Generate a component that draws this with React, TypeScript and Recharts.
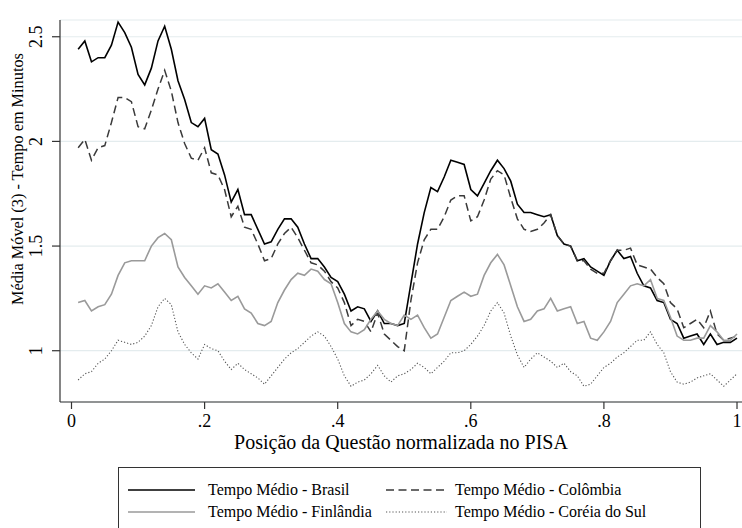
import React from 'react';
import { LineChart, Line, XAxis, YAxis, CartesianGrid, Legend } from 'recharts';

const positions = [
  0.01, 0.02, 0.03, 0.04, 0.05, 0.06, 0.07, 0.08, 0.09, 0.1,
  0.11, 0.12, 0.13, 0.14, 0.15, 0.16, 0.17, 0.18, 0.19, 0.2,
  0.21, 0.22, 0.23, 0.24, 0.25, 0.26, 0.27, 0.28, 0.29, 0.3,
  0.31, 0.32, 0.33, 0.34, 0.35, 0.36, 0.37, 0.38, 0.39, 0.4,
  0.41, 0.42, 0.43, 0.44, 0.45, 0.46, 0.47, 0.48, 0.49, 0.5,
  0.51, 0.52, 0.53, 0.54, 0.55, 0.56, 0.57, 0.58, 0.59, 0.6,
  0.61, 0.62, 0.63, 0.64, 0.65, 0.66, 0.67, 0.68, 0.69, 0.7,
  0.71, 0.72, 0.73, 0.74, 0.75, 0.76, 0.77, 0.78, 0.79, 0.8,
  0.81, 0.82, 0.83, 0.84, 0.85, 0.86, 0.87, 0.88, 0.89, 0.9,
  0.91, 0.92, 0.93, 0.94, 0.95, 0.96, 0.97, 0.98, 0.99, 1.0,
];

const brasil = [
  2.44, 2.48, 2.38, 2.40, 2.40, 2.46, 2.57, 2.52, 2.45, 2.32,
  2.27, 2.35, 2.48, 2.55, 2.44, 2.29, 2.20, 2.09, 2.07, 2.11,
  1.96, 1.94, 1.84, 1.71, 1.77, 1.65, 1.65, 1.58, 1.51, 1.52,
  1.58, 1.63, 1.63, 1.59, 1.51, 1.44, 1.44, 1.40, 1.35, 1.33,
  1.27, 1.19, 1.21, 1.20, 1.14, 1.19, 1.13, 1.13, 1.12, 1.13,
  1.32, 1.51, 1.66, 1.78, 1.76, 1.83, 1.91, 1.90, 1.89, 1.77,
  1.74, 1.80, 1.86, 1.91, 1.87, 1.81, 1.70, 1.66, 1.66, 1.65,
  1.64, 1.65, 1.55, 1.51, 1.50, 1.43, 1.44, 1.40, 1.38, 1.36,
  1.43, 1.48, 1.44, 1.45, 1.37, 1.31, 1.30, 1.24, 1.23, 1.15,
  1.13, 1.06, 1.07, 1.08, 1.03, 1.08, 1.03, 1.04, 1.04, 1.06,
];

const colombia = [
  1.97, 2.01, 1.91, 1.97, 1.98, 2.09, 2.21, 2.21, 2.19, 2.07,
  2.06, 2.15, 2.25, 2.34, 2.24, 2.09, 1.99, 1.92, 1.91, 1.97,
  1.85, 1.84, 1.77, 1.64, 1.69, 1.59, 1.58, 1.51, 1.43, 1.44,
  1.51, 1.56, 1.59, 1.54, 1.48, 1.42, 1.41, 1.38, 1.33, 1.30,
  1.23, 1.12, 1.15, 1.14, 1.09, 1.18, 1.08, 1.05, 1.02, 1.00,
  1.24, 1.42, 1.53, 1.58, 1.58, 1.64, 1.72, 1.74, 1.74, 1.62,
  1.64, 1.72, 1.82, 1.86, 1.84, 1.73, 1.63, 1.58, 1.57, 1.58,
  1.61, 1.65, 1.55, 1.51, 1.50, 1.43, 1.43, 1.39, 1.37, 1.37,
  1.43, 1.48, 1.48, 1.49, 1.41, 1.40, 1.39, 1.35, 1.32, 1.23,
  1.20, 1.11, 1.13, 1.15, 1.11, 1.19, 1.08, 1.05, 1.06, 1.07,
];

const finlandia = [
  1.23, 1.24, 1.19, 1.21, 1.22, 1.27, 1.36, 1.42, 1.43, 1.43,
  1.43, 1.50, 1.54, 1.56, 1.53, 1.40, 1.35, 1.31, 1.27, 1.31,
  1.30, 1.32, 1.28, 1.24, 1.26, 1.20, 1.18, 1.13, 1.12, 1.14,
  1.23, 1.29, 1.34, 1.37, 1.36, 1.39, 1.38, 1.34, 1.32, 1.23,
  1.13, 1.09, 1.08, 1.10, 1.15, 1.19, 1.15, 1.13, 1.12, 1.17,
  1.15, 1.17, 1.11, 1.06, 1.08, 1.16, 1.24, 1.26, 1.28, 1.26,
  1.27, 1.36, 1.42, 1.46, 1.41, 1.31, 1.21, 1.14, 1.15, 1.19,
  1.20, 1.25, 1.19, 1.20, 1.21, 1.13, 1.14, 1.06, 1.05, 1.09,
  1.14, 1.23, 1.27, 1.31, 1.32, 1.31, 1.34, 1.25, 1.24, 1.16,
  1.07, 1.05, 1.05, 1.06, 1.06, 1.12, 1.09, 1.05, 1.05, 1.08,
];

const coreia = [
  0.86, 0.89, 0.90, 0.94, 0.96, 1.00, 1.05, 1.04, 1.03, 1.04,
  1.07, 1.12, 1.21, 1.25, 1.22, 1.09, 1.03, 0.99, 0.96, 1.03,
  1.01, 1.00, 0.95, 0.91, 0.94, 0.91, 0.89, 0.87, 0.84, 0.88,
  0.92, 0.96, 0.99, 1.01, 1.04, 1.07, 1.09, 1.07, 1.02, 0.96,
  0.88, 0.83, 0.85, 0.86, 0.89, 0.93, 0.88, 0.85, 0.88, 0.89,
  0.91, 0.94, 0.92, 0.89, 0.92, 0.95, 0.99, 0.99, 1.00, 1.03,
  1.07, 1.12, 1.19, 1.23, 1.18, 1.07, 0.98, 0.92, 0.96, 0.99,
  0.97, 0.95, 0.92, 0.94, 0.90, 0.88, 0.83, 0.84, 0.88, 0.92,
  0.94, 0.97, 0.99, 1.02, 1.05, 1.05, 1.09, 1.03, 0.99, 0.90,
  0.85, 0.84, 0.85, 0.87, 0.88, 0.89, 0.86, 0.83, 0.86, 0.89,
];

const xTicks = [0, 0.2, 0.4, 0.6, 0.8, 1];
const yTicks = [1, 1.5, 2, 2.5];
const seriesNames = [
  'Tempo Médio - Brasil',
  'Tempo Médio - Colômbia',
  'Tempo Médio - Finlândia',
  'Tempo Médio - Coréia do Sul',
];
const xTitle = 'Posição da Questão normalizada no PISA';
const yTitle = 'Média Móvel (3) - Tempo em Minutos';

const data = positions.map((x, i) => ({
  x,
  brasil: brasil[i],
  colombia: colombia[i],
  finlandia: finlandia[i],
  coreia: coreia[i],
}));

const FONT = '"Liberation Serif", "Times New Roman", serif';
const AXIS = '#333333';

const styles = [
  { key: 'brasil', stroke: '#000000', width: 1.6, dash: undefined as string | undefined },
  { key: 'colombia', stroke: '#3a3a3a', width: 1.5, dash: '8 4.5' },
  { key: 'finlandia', stroke: '#9a9a9a', width: 1.6, dash: undefined as string | undefined },
  { key: 'coreia', stroke: '#555555', width: 1.1, dash: '1.2 2' },
];

const fmtX = (v: number) => (v === 0 ? '0' : v === 1 ? '1' : String(v).replace(/^0/, ''));

const XTick = (props: any) => {
  const { x, y, payload } = props;
  return (
    <text x={x} y={y + 16} textAnchor="middle" fontFamily={FONT} fontSize={18} fill="#000">
      {fmtX(payload.value)}
    </text>
  );
};

const YTick = (props: any) => {
  const { x, y, payload } = props;
  return (
    <text
      x={x}
      y={y}
      transform={`rotate(-90 ${x} ${y})`}
      textAnchor="middle"
      fontFamily={FONT}
      fontSize={18}
      fill="#000"
    >
      {String(payload.value)}
    </text>
  );
};

const LegendBox = () => {
  const rows = [23, 45];
  const sampleX = [
    [10, 77],
    [268, 329],
  ];
  const textX = [90, 337];
  return (
    <svg width={584} height={62} style={{ display: 'block' }}>
      <rect x={0.5} y={0.5} width={582} height={80} fill="#fff" stroke={AXIS} strokeWidth={1} />
      {seriesNames.map((name, i) => {
        const row = Math.floor(i / 2);
        const col = i % 2;
        const s = styles[i];
        const y = rows[row];
        return (
          <g key={name}>
            <line
              x1={sampleX[col][0]}
              x2={sampleX[col][1]}
              y1={y}
              y2={y}
              stroke={s.stroke}
              strokeWidth={s.width}
              strokeDasharray={s.dash}
            />
            <text x={textX[col]} y={y + 5} fontFamily={FONT} fontSize={16} fill="#000">
              {name}
            </text>
          </g>
        );
      })}
    </svg>
  );
};

export default function App() {
  return (
    <div style={{ position: 'absolute', left: 0, top: 0, width: 742, height: 528, background: '#fff', overflow: 'hidden' }}>
      <LineChart width={742} height={528} data={data} margin={{ top: 20, right: 0, left: 0, bottom: 0 }}>
        <CartesianGrid vertical={false} stroke="#e4ecee" strokeWidth={1.2} />
        <XAxis
          dataKey="x"
          type="number"
          domain={[-0.01728, 1.0075]}
          allowDataOverflow
          ticks={xTicks}
          height={126}
          tickSize={7}
          tickMargin={2}
          stroke={AXIS}
          axisLine={{ stroke: AXIS, strokeWidth: 1.2 }}
          tickLine={{ stroke: AXIS, strokeWidth: 1.2 }}
          tick={<XTick />}
          interval={0}
          label={{
            content: () => (
              <text x={401} y={449} textAnchor="middle" fontFamily={FONT} fontSize={20} fill="#000">
                {xTitle}
              </text>
            ),
          }}
        />
        <YAxis
          type="number"
          domain={[0.755, 2.58]}
          allowDataOverflow
          ticks={yTicks}
          width={60}
          tickSize={8}
          tickMargin={10}
          stroke={AXIS}
          axisLine={{ stroke: AXIS, strokeWidth: 1.2 }}
          tickLine={{ stroke: AXIS, strokeWidth: 1.2 }}
          tick={<YTick />}
          interval={0}
          label={{
            content: () => (
              <text
                x={23}
                y={179}
                transform="rotate(-90 23 179)"
                textAnchor="middle"
                fontFamily={FONT}
                fontSize={16.3}
                fill="#000"
              >
                {yTitle}
              </text>
            ),
          }}
        />
        {styles.map((s, i) => (
          <Line
            key={s.key}
            type="linear"
            dataKey={s.key}
            name={seriesNames[i]}
            stroke={s.stroke}
            strokeWidth={s.width}
            strokeDasharray={s.dash}
            dot={false}
            activeDot={false}
            isAnimationActive={false}
          />
        ))}
        <Legend
          layout="horizontal"
          verticalAlign="middle"
          align="center"
          wrapperStyle={{ left: 118, top: 467, width: 584, height: 62 }}
          content={() => <LegendBox />}
        />
      </LineChart>
    </div>
  );
}
